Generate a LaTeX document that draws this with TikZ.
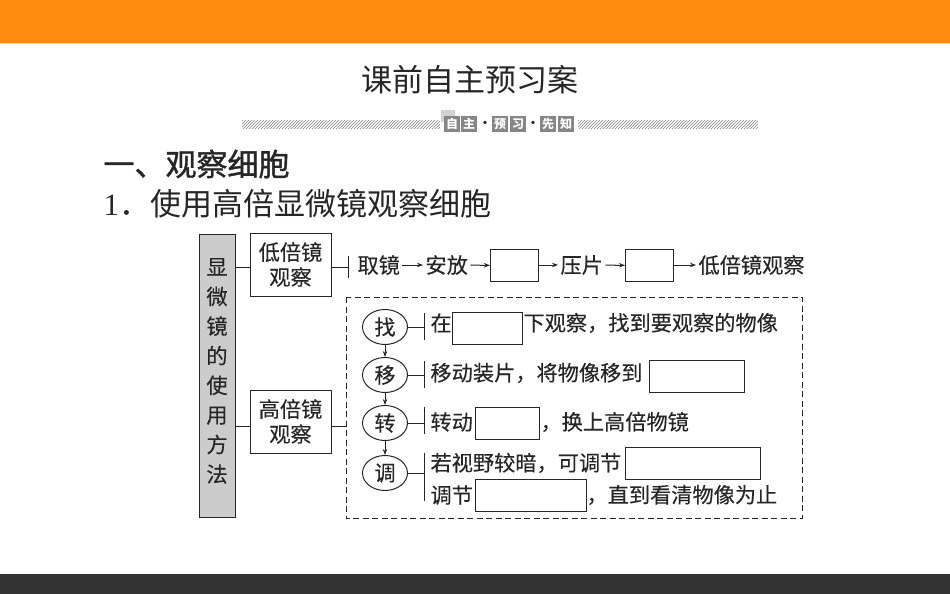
\documentclass[tikz,border=0pt]{standalone}
\usepackage{fontspec}
\setmainfont{Noto Sans CJK SC}
\newfontfamily\numfont{Liberation Serif}
\newfontfamily\flowfont[FakeBold=0.25]{Noto Sans CJK SC}
\newfontfamily\headfont[FakeBold=1.2]{Noto Sans CJK SC}
\usetikzlibrary{patterns,shapes.geometric,arrows.meta}
\definecolor{barorange}{HTML}{FF8A0B}
\definecolor{bardark}{HTML}{333333}
\definecolor{inkdark}{HTML}{262626}
\newcommand{\fsz}[1]{\fontsize{#1}{#1}\selectfont}
\begin{document}
\begin{tikzpicture}[x=1pt,y=-1pt,->,>={Stealth[length=6pt,width=4.5pt]},line width=1pt,color=inkdark,
    main box/.style={draw,-,rectangle,minimum width=81pt,minimum height=63pt,inner sep=0pt,align=center,font=\fontsize{21.2}{25}\selectfont\flowfont},
    blank box/.style={draw,-,rectangle,inner sep=0pt,anchor=north west},
    main circle/.style={draw,-,ellipse,minimum width=45pt,minimum height=35pt,inner sep=0pt,font=\fsz{21.2}\flowfont},
    flow text/.style={anchor=west,inner sep=2pt,font=\fsz{21.2}\flowfont},
    tag box/.style={fill=gray!95,text=white,minimum size=16pt,inner sep=0pt,font=\fsz{12}\bfseries},
    stripe/.style={draw=none,pattern=north east lines,pattern color=gray}]
  \useasboundingbox (0,0) rectangle (950,594);

  % bars
  \fill[barorange] (0,0) rectangle (950,43);
  \fill[barorange!40] (0,43) rectangle (950,44);
  \fill[bardark] (0,574) rectangle (950,594);

  % title
  \node[inner sep=0pt,font=\fsz{31}] (title) at (470,80) {课前自主预习案};
  \fill[stripe] (242,120) rectangle (440,128);
  \fill[stripe] (578,120) rectangle (758,128);
  \fill[gray!35] (441,110) rectangle (455,122);
  \node[tag box] (tag1) at (452,124) {自};
  \node[tag box] (tag2) at (469,124) {主};
  \node[inner sep=0pt,font=\fsz{12}\bfseries] (dot1) at (485,124) {·};
  \node[tag box] (tag3) at (500,124) {预};
  \node[tag box] (tag4) at (518,124) {习};
  \node[inner sep=0pt,font=\fsz{12}\bfseries] (dot2) at (533,124) {·};
  \node[tag box] (tag5) at (548,124) {先};
  \node[tag box] (tag6) at (566,124) {知};

  \node[anchor=west,inner sep=0pt,font=\fsz{31}\headfont] (head) at (103,164) {一、观察细胞};
  \node[anchor=west,inner sep=0pt,font=\fsz{31}] (sub) at (103,204) {{\numfont 1}．使用高倍显微镜观察细胞};

  % left column
  \node[draw,-,fill=gray!40,minimum width=36pt,minimum height=283pt,inner sep=0pt] (side) at (217,375.5) {};
  \node[inner sep=0pt,align=center,font=\fontsize{21.2}{29.6}\selectfont\flowfont] (sideText) at (217,371) {显\\微\\镜\\的\\使\\用\\方\\法};
  \node[main box] (low) at (290.5,264.5) {低倍镜\\观察};
  \node[main box] (high) at (290.5,421.5) {高倍镜\\观察};

  % low power row
  \coordinate (lowBrT) at (348,256);
  \coordinate (lowBrB) at (348,278);
  \coordinate (lowBr) at (348,267);
  \coordinate (sideLow) at (235,267);
  \coordinate (lowIn) at (250,267);
  \coordinate (lowOut) at (331,267);
  \node[flow text] (take) at (355,265) {取镜};
  \node[flow text] (place) at (423,265) {安放};
  \node[blank box,minimum width=48pt,minimum height=32pt] (blankA) at (490,249) {};
  \node[flow text] (press) at (558,265) {压片};
  \node[blank box,minimum width=48pt,minimum height=32pt] (blankB) at (625,249) {};
  \node[flow text] (lowView) at (696,265) {低倍镜观察};

  \draw[-] (sideLow) -- (lowIn);
  \draw[-] (lowOut) -- (lowBr);
  \draw[-] (lowBrT) -- (lowBrB);
  \path (take) edge (place)
        (place) edge (blankA)
        (blankA.east |- press) edge (press)
        (press) edge (blankB)
        (blankB.east |- lowView) edge (lowView);

  % high power block
  \draw[-,dashed,dash pattern=on 6pt off 3.5pt] (346,297) rectangle (802,518);
  \coordinate (sideHigh) at (235,426);
  \coordinate (highIn) at (250,426);
  \coordinate (highOut) at (331,426);
  \coordinate (dashIn) at (346,426);
  \draw[-] (sideHigh) -- (highIn);
  \draw[-] (highOut) -- (dashIn);

  \node[main circle] (find) at (385,327) {找};
  \node[main circle] (move) at (385,375) {移};
  \node[main circle] (turn) at (385,423) {转};
  \node[main circle] (tune) at (385,473) {调};
  \path (find) edge (move)
        (move) edge (turn)
        (turn) edge (tune);

  \foreach \nm/\ya/\yb/\ym in {find/313/340/327,move/361/388/375,turn/407/434/423,tune/453/501/473}{
    \coordinate (\nm Br) at (424,\ym);
    \coordinate (\nm BrT) at (424,\ya);
    \coordinate (\nm BrB) at (424,\yb);
    \draw[-] (\nm) -- (\nm Br);
    \draw[-] (\nm BrT) -- (\nm BrB);
  }

  \node[flow text,inner sep=0pt] (findA) at (430,323) {在};
  \node[blank box,minimum width=70pt,minimum height=32pt] (blankC) at (452,312) {};
  \node[flow text,inner sep=0pt] (findB) at (523,323) {下观察，找到要观察的物像};

  \node[flow text,inner sep=0pt] (moveA) at (430,373) {移动装片，将物像移到};
  \node[blank box,minimum width=95pt,minimum height=32pt] (blankD) at (649,360) {};

  \node[flow text,inner sep=0pt] (turnA) at (430,422) {转动};
  \node[blank box,minimum width=64pt,minimum height=32pt] (blankE) at (475,407) {};
  \node[flow text,inner sep=0pt] (turnB) at (540,422) {，换上高倍物镜};

  \node[flow text,inner sep=0pt] (tuneA) at (430,463) {若视野较暗，可调节};
  \node[blank box,minimum width=135pt,minimum height=32pt] (blankF) at (625,447) {};
  \node[flow text,inner sep=0pt] (tuneB) at (430,495) {调节};
  \node[blank box,minimum width=111pt,minimum height=32pt] (blankG) at (475,479) {};
  \node[flow text,inner sep=0pt] (tuneC) at (586,495) {，直到看清物像为止};
\end{tikzpicture}
\end{document}
